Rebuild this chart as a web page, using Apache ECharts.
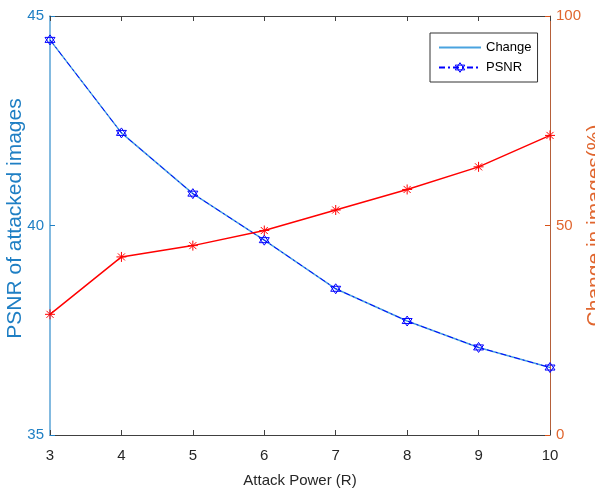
<!DOCTYPE html>
<html><head><meta charset="utf-8">
<script src="https://cdn.jsdelivr.net/npm/echarts@6/dist/echarts.min.js"></script>
<style>html,body{margin:0;padding:0;background:#fff}#c{width:595px;height:493px}</style>
</head><body><div id="c"></div>
<script>
var attackPower = [3, 4, 5, 6, 7, 8, 9, 10];
var psnr = [44.43, 42.21, 40.76, 39.65, 38.49, 37.72, 37.09, 36.61];
var changePct = [28.8, 42.5, 45.2, 48.8, 53.7, 58.6, 64.0, 71.5];
var leftTicks = [35, 40, 45];
var rightTicks = [0, 50, 100];

var FONT = "'Liberation Sans', Arial, Helvetica, sans-serif";
var hexagram = 'path://M0,-10 L8.66,5 L-8.66,5 Z M0,10 L8.66,-5 L-8.66,-5 Z';
var asterisk = 'path://M-5,0 L5,0 M0,-5 L0,5 M-3.54,-3.54 L3.54,3.54 M-3.54,3.54 L3.54,-3.54';

function pairs(ys){ return attackPower.map(function(x,i){ return [x, ys[i]]; }); }

var chart = echarts.init(document.getElementById('c'), null, {renderer:'canvas'});
chart.setOption({
  animation: false,
  textStyle: {fontFamily: FONT},
  grid: {left: 50, right: 45, top: 16, bottom: 58, containLabel: false, outerBoundsMode: 'none'},
  legend: {
    orient: 'vertical', left: 430, top: 33,
    padding: [8, 6, 8, 8], itemGap: 7, itemWidth: 42, itemHeight: 12,
    borderColor: '#333', borderWidth: 1, backgroundColor: '#fff',
    textStyle: {fontSize: 13, color: '#000', fontFamily: FONT},
    data: [
      {name: 'Change', itemStyle: {color: 'rgba(0,0,0,0)', borderWidth: 0, opacity: 0}},
      {name: 'PSNR', itemStyle: {color: 'rgba(0,0,0,0)', borderColor: '#0000ff', borderWidth: 1}}
    ]
  },
  xAxis: [{
    type: 'value', min: attackPower[0], max: attackPower[attackPower.length-1], interval: 1,
    name: 'Attack Power (R)', nameLocation: 'middle', nameGap: 38, nameMoveOverlap: false,
    nameTextStyle: {fontSize: 15, color: '#262626', fontFamily: FONT},
    axisLine: {lineStyle: {color: '#404040', width: 1}},
    axisTick: {inside: true, length: 5, lineStyle: {color: '#404040'}},
    axisLabel: {fontSize: 15, color: '#262626', margin: 13, fontFamily: FONT},
    splitLine: {show: false}
  }, {
    type: 'value', position: 'top', min: attackPower[0], max: attackPower[attackPower.length-1], interval: 1,
    axisLine: {lineStyle: {color: '#404040', width: 1}},
    axisTick: {inside: true, length: 5, lineStyle: {color: '#404040'}},
    axisLabel: {show: false}, splitLine: {show: false}
  }],
  yAxis: [{
    type: 'value', min: leftTicks[0], max: leftTicks[leftTicks.length-1], interval: 5,
    name: 'PSNR of attacked images', nameLocation: 'middle', nameGap: 24, nameMoveOverlap: false,
    nameTextStyle: {fontSize: 21, color: '#1f7fc4', fontFamily: FONT, padding: [0, 0, 0, 14]},
    axisLine: {show: true, lineStyle: {color: '#5aa3d6', width: 1.5}},
    axisTick: {inside: true, length: 5, lineStyle: {color: '#1f7fc4'}},
    axisLabel: {fontSize: 15, color: '#1f7fc4', margin: 6, fontFamily: FONT},
    splitLine: {show: false}
  }, {
    type: 'value', position: 'right', min: rightTicks[0], max: rightTicks[rightTicks.length-1], interval: 50,
    name: 'Change in images(%)', nameLocation: 'middle', nameGap: 35, nameMoveOverlap: false,
    nameTextStyle: {fontSize: 21, color: '#e0662f', fontFamily: FONT},
    axisLine: {show: true, lineStyle: {color: '#b5603a', width: 1}},
    axisTick: {inside: true, length: 5, lineStyle: {color: '#d95319'}},
    axisLabel: {fontSize: 15, color: '#e0662f', margin: 6, fontFamily: FONT},
    splitLine: {show: false}
  }],
  series: [{
    name: 'Change', type: 'line', yAxisIndex: 0, data: pairs(psnr),
    symbol: 'circle', showSymbol: false,
    lineStyle: {color: '#4aa3df', width: 1.5, type: 'solid'},
    itemStyle: {color: '#4aa3df'}, z: 2
  }, {
    name: 'PSNR', type: 'line', yAxisIndex: 0, data: pairs(psnr),
    symbol: hexagram, symbolSize: 10,
    lineStyle: {color: '#0000ff', width: 1, type: [6, 3, 2, 3]},
    itemStyle: {color: 'rgba(0,0,0,0)', borderColor: '#0000ff', borderWidth: 1},
    z: 3
  }, {
    name: 'ChangeRed', type: 'line', yAxisIndex: 1, data: pairs(changePct),
    symbol: asterisk, symbolSize: 10,
    lineStyle: {color: '#ff0000', width: 1.5},
    itemStyle: {color: 'rgba(0,0,0,0)', borderColor: '#ff0000', borderWidth: 1},
    z: 3
  }]
});
</script></body></html>
